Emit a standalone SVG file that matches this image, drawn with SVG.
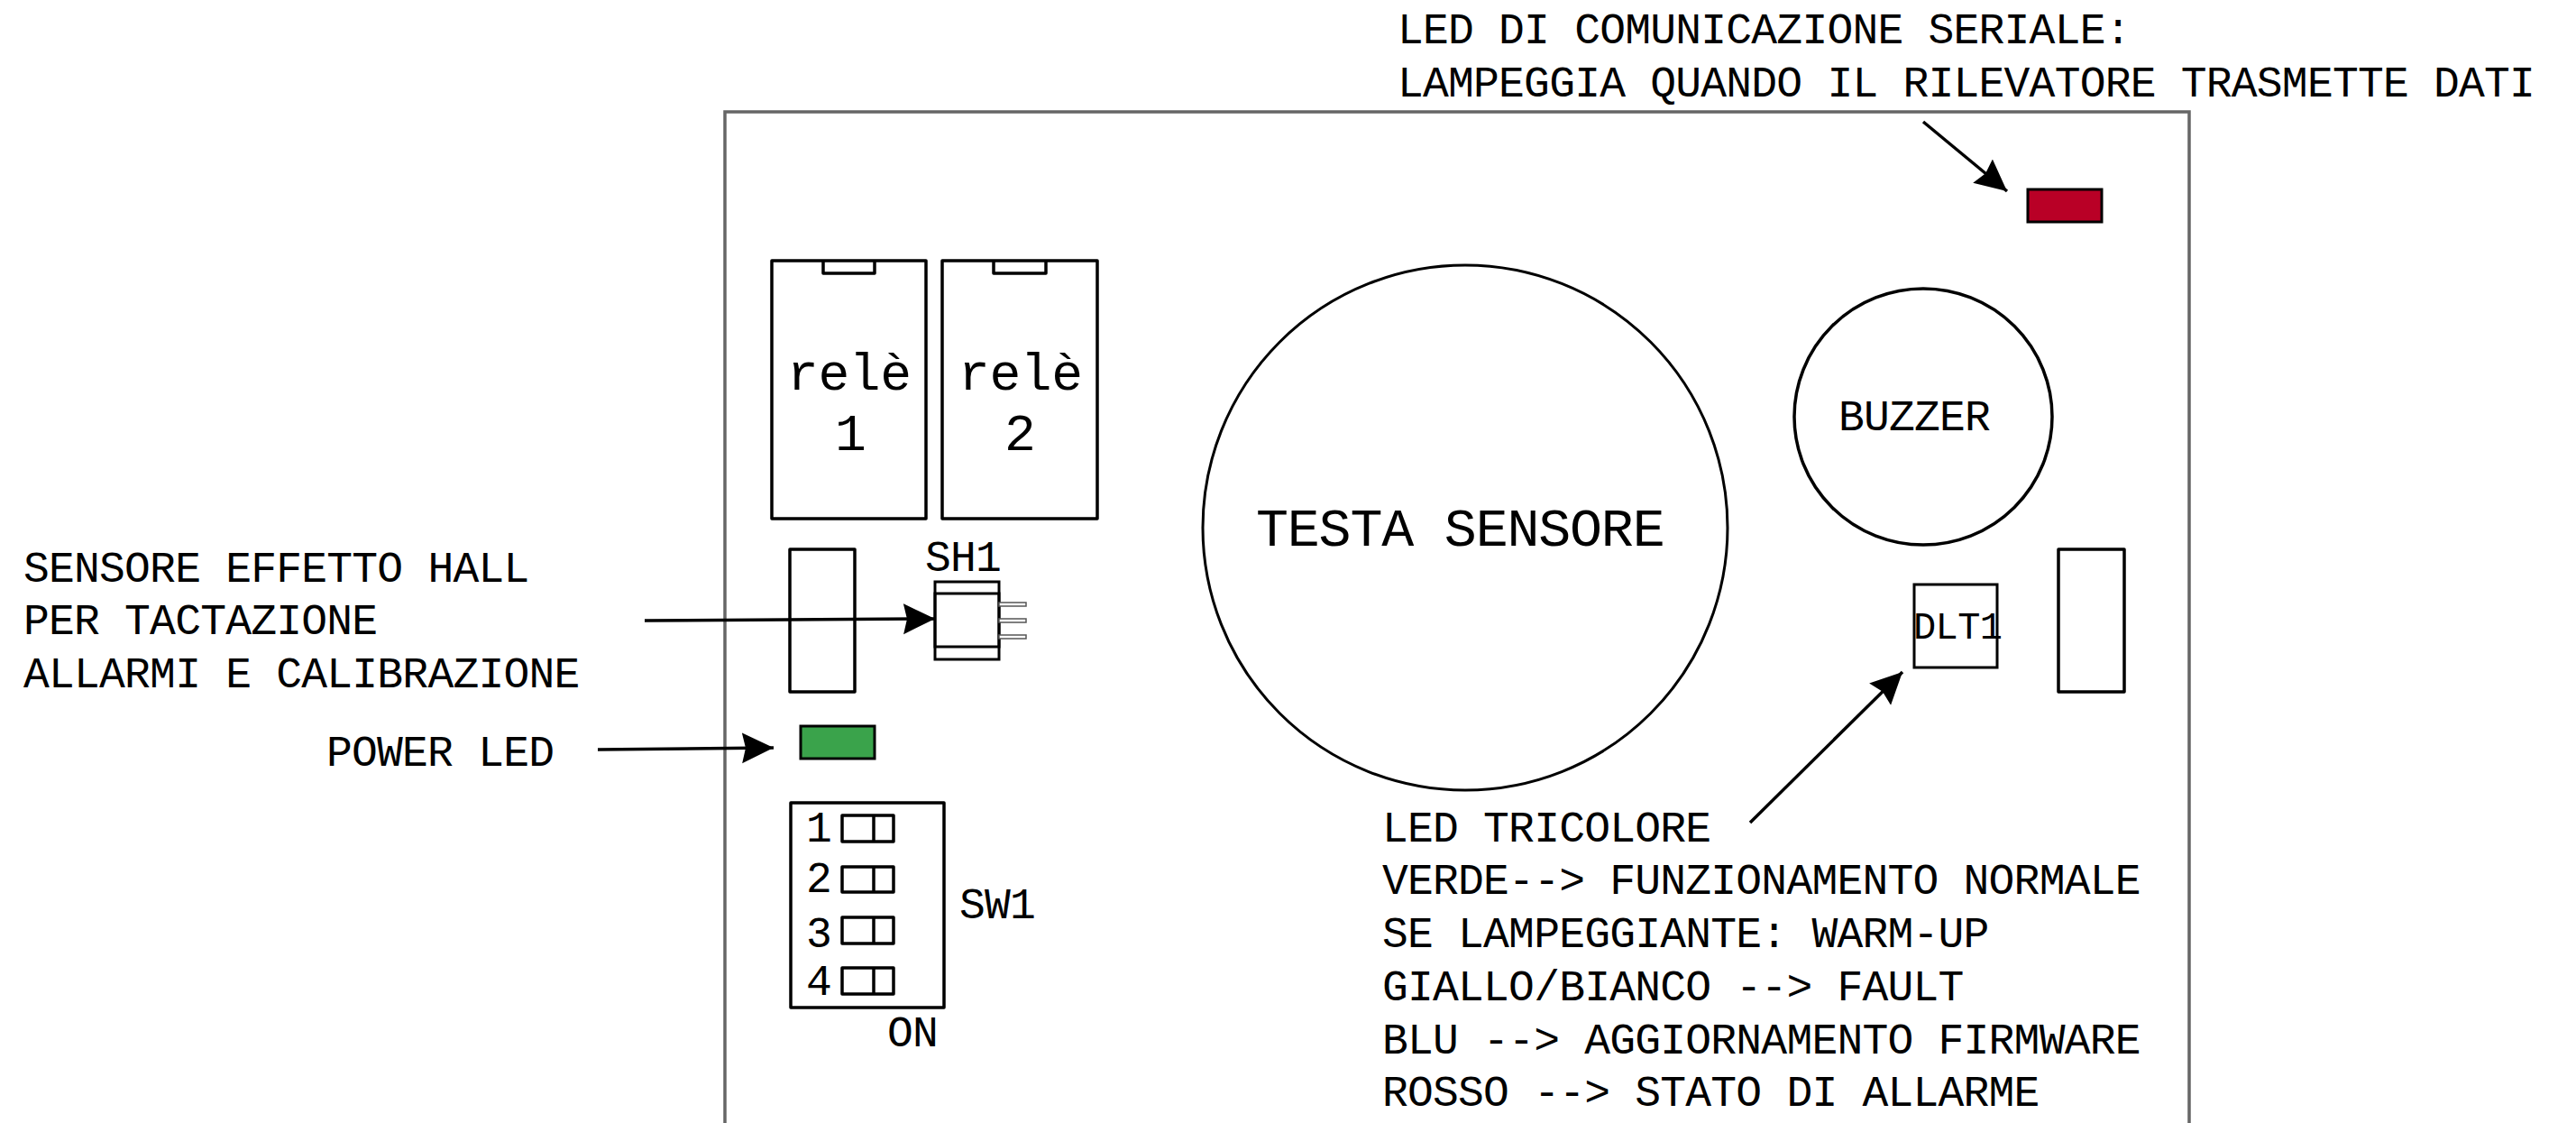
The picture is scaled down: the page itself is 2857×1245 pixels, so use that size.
<svg xmlns="http://www.w3.org/2000/svg" width="2857" height="1245" viewBox="0 0 2857 1245">
<style>
.s{fill:none;stroke:#000;stroke-width:3.5;stroke-linejoin:round}
.t{stroke:#000;stroke-width:3;fill:none}
text{font-family:"Liberation Mono",monospace;font-size:48px;letter-spacing:-.78px;fill:#000}
.r{font-size:58px;letter-spacing:-.4px}
.c{stroke:#000;stroke-width:3.5;fill:none;marker-end:url(#a)}
</style>
<defs>
<marker id="a" markerUnits="userSpaceOnUse" markerWidth="38" markerHeight="36" refX="35" refY="18" orient="auto"><path d="M0 1 L35 18 L0 35 L4 18 Z" fill="#000"/></marker>
</defs>
<rect width="2857" height="1245" fill="#fff"/>
<g id="board"><path d="M804 1245V124H2428V1245" fill="none" stroke="#666" stroke-width="3.5"/></g>
<g id="rele1"><rect class="s" x="856" y="289" width="171" height="286"/><path class="s" d="M913 289V303H970V289"/><text class="r" x="873" y="432">relè</text><text class="r" x="926" y="499">1</text></g>
<g id="rele2"><rect class="s" x="1045" y="289" width="172" height="286"/><path class="s" d="M1102 289V303H1160V289"/><text class="r" x="1063" y="432">relè</text><text class="r" x="1114" y="499">2</text></g>
<g id="conn-left"><rect class="s" x="876" y="609" width="72" height="158"/></g>
<g id="sh1"><text x="1026" y="633">SH1</text><rect class="t" x="1037" y="645" width="71" height="86"/><rect class="t" x="1037" y="658" width="71" height="59"/>
<g fill="#fff" stroke="#555" stroke-width="1.5"><rect x="1108" y="668" width="30" height="4"/><rect x="1108" y="686" width="30" height="4"/><rect x="1108" y="704" width="30" height="4"/></g></g>
<g id="power-led"><rect x="888" y="805" width="82" height="36" fill="#3aa34b" stroke="#000" stroke-width="3"/></g>
<g id="sw1"><rect class="s" x="877" y="890" width="170" height="227"/>
<path class="s" d="M934 904H991V933H934ZM969 904V933M934 961H991V989H934ZM969 961V989M934 1017H991V1046H934ZM969 1017V1046M934 1073H991V1102H934ZM969 1073V1102"/>
<text x="894" y="933">1</text><text x="894" y="989">2</text><text x="894" y="1050">3</text><text x="894" y="1103">4</text>
<text x="1064" y="1018">SW1</text><text x="984" y="1160">ON</text></g>
<g id="testa"><circle class="t" cx="1625" cy="585" r="291"/><text x="1393" y="605" style="font-size:60px;letter-spacing:-1.2px">TESTA SENSORE</text></g>
<g id="buzzer"><ellipse class="s" cx="2133" cy="462" rx="143" ry="142"/><text x="2039" y="477">BUZZER</text></g>
<g id="dlt1"><rect class="t" x="2123" y="648" width="92" height="92"/><text x="2122" y="708" style="font-size:42px;letter-spacing:-.6px">DLT1</text></g>
<g id="conn-right"><rect class="s" x="2283" y="609" width="73" height="158"/></g>
<g id="serial-led"><rect x="2249" y="210" width="82" height="36" fill="#b90026" stroke="#000" stroke-width="3"/></g>
<g id="connectors">
<path class="c" d="M2133 135L2226 212"/>
<path class="c" d="M715 688L1037 686"/>
<path class="c" d="M663 831L858 829"/>
<path class="c" d="M1941 912L2110 745"/>
</g>
<g id="labels">
<text x="1550" y="48">LED DI COMUNICAZIONE SERIALE:</text>
<text x="1550" y="107">LAMPEGGIA QUANDO IL RILEVATORE TRASMETTE DATI</text>
<text x="26" y="645">SENSORE EFFETTO HALL</text>
<text x="26" y="703">PER TACTAZIONE</text>
<text x="26" y="762">ALLARMI E CALIBRAZIONE</text>
<text x="362" y="849">POWER LED</text>
<text x="1533" y="933">LED TRICOLORE</text>
<text x="1533" y="991">VERDE--&gt; FUNZIONAMENTO NORMALE</text>
<text x="1533" y="1050">SE LAMPEGGIANTE: WARM-UP</text>
<text x="1533" y="1109">GIALLO/BIANCO --&gt; FAULT</text>
<text x="1533" y="1168">BLU --&gt; AGGIORNAMENTO FIRMWARE</text>
<text x="1533" y="1226">ROSSO --&gt; STATO DI ALLARME</text>
</g>
</svg>
